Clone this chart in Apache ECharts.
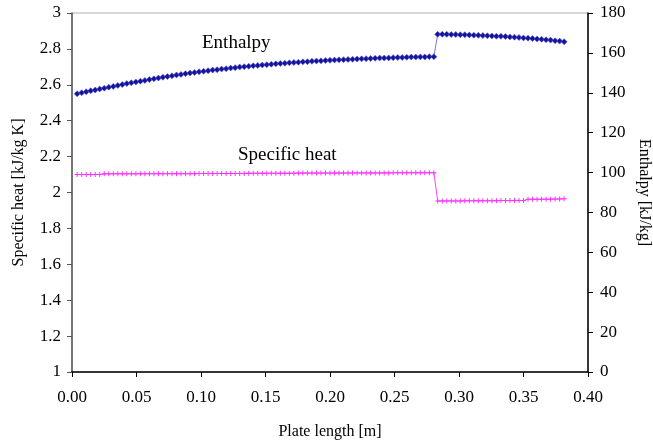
<!DOCTYPE html>
<html>
<head>
<meta charset="utf-8">
<script src="https://cdn.jsdelivr.net/npm/echarts@6/dist/echarts.min.js"></script>
<style>
  html, body { margin: 0; padding: 0; background: #fff; }
  #chart { width: 653px; height: 443px; }
</style>
</head>
<body>
<div id="chart"></div>
<script>
// Plate positions [m], first (heating) section
const plateX1 = [
  0.0040, 0.0075, 0.0110, 0.0145, 0.0180, 0.0215, 0.0250, 0.0285, 0.0320, 0.0355,
  0.0390, 0.0425, 0.0460, 0.0495, 0.0530, 0.0565, 0.0600, 0.0635, 0.0670, 0.0705,
  0.0740, 0.0775, 0.0810, 0.0845, 0.0880, 0.0915, 0.0950, 0.0985, 0.1020, 0.1055,
  0.1090, 0.1125, 0.1160, 0.1195, 0.1230, 0.1265, 0.1300, 0.1335, 0.1370, 0.1405,
  0.1440, 0.1475, 0.1510, 0.1545, 0.1580, 0.1615, 0.1650, 0.1685, 0.1720, 0.1755,
  0.1790, 0.1825, 0.1860, 0.1895, 0.1930, 0.1965, 0.2000, 0.2035, 0.2070, 0.2105,
  0.2140, 0.2175, 0.2210, 0.2245, 0.2280, 0.2315, 0.2350, 0.2385, 0.2420, 0.2455,
  0.2490, 0.2525, 0.2560, 0.2595, 0.2630, 0.2665, 0.2700, 0.2735, 0.2770, 0.2805
];
// Plate positions [m], second section
const plateX2 = [
  0.2835, 0.2870, 0.2905, 0.2940, 0.2975, 0.3010, 0.3045, 0.3080, 0.3115, 0.3150,
  0.3185, 0.3220, 0.3255, 0.3290, 0.3325, 0.3360, 0.3395, 0.3430, 0.3465, 0.3500,
  0.3535, 0.3570, 0.3605, 0.3640, 0.3675, 0.3710, 0.3745, 0.3780, 0.3815
];

// Enthalpy [kJ/kg]
const enthalpy1 = [
  139.5, 140.0, 140.5, 141.0, 141.4, 141.9, 142.3, 142.8, 143.2, 143.7,
  144.1, 144.6, 145.0, 145.4, 145.8, 146.2, 146.6, 147.0, 147.4, 147.8,
  148.1, 148.5, 148.9, 149.2, 149.6, 149.9, 150.2, 150.5, 150.8, 151.1,
  151.4, 151.6, 151.9, 152.1, 152.4, 152.6, 152.9, 153.1, 153.3, 153.5,
  153.7, 153.9, 154.1, 154.3, 154.5, 154.7, 154.8, 155.0, 155.2, 155.3,
  155.5, 155.6, 155.8, 155.9, 156.0, 156.2, 156.3, 156.4, 156.5, 156.6,
  156.7, 156.8, 156.9, 157.0, 157.1, 157.2, 157.3, 157.4, 157.4, 157.5,
  157.6, 157.7, 157.7, 157.8, 157.9, 157.9, 158.0, 158.0, 158.1, 158.1
];
const enthalpy2 = [
  169.3, 169.3, 169.3, 169.2, 169.2, 169.1, 169.1, 169.0, 168.9, 168.8,
  168.7, 168.6, 168.5, 168.4, 168.3, 168.2, 168.0, 167.9, 167.7, 167.5,
  167.4, 167.2, 167.0, 166.8, 166.6, 166.4, 166.1, 165.9, 165.6
];

// Specific heat [kJ/kg K]
const specHeat1 = [
  2.100, 2.100, 2.100, 2.100, 2.100, 2.100, 2.104, 2.104, 2.104, 2.104,
  2.104, 2.104, 2.104, 2.104, 2.105, 2.105, 2.105, 2.105, 2.105, 2.105,
  2.105, 2.105, 2.105, 2.105, 2.105, 2.105, 2.105, 2.106, 2.106, 2.106,
  2.106, 2.106, 2.106, 2.106, 2.106, 2.106, 2.106, 2.106, 2.107, 2.107,
  2.107, 2.107, 2.107, 2.107, 2.107, 2.107, 2.107, 2.107, 2.107, 2.108,
  2.108, 2.108, 2.108, 2.108, 2.108, 2.108, 2.108, 2.108, 2.108, 2.108,
  2.109, 2.109, 2.109, 2.109, 2.109, 2.109, 2.109, 2.109, 2.109, 2.109,
  2.110, 2.110, 2.110, 2.110, 2.110, 2.110, 2.110, 2.110, 2.110, 2.110
];
const specHeat2 = [
  1.953, 1.953, 1.953, 1.953, 1.953, 1.953, 1.954, 1.954, 1.954, 1.954,
  1.954, 1.954, 1.954, 1.954, 1.955, 1.955, 1.955, 1.955, 1.955, 1.955,
  1.962, 1.962, 1.962, 1.963, 1.963, 1.963, 1.964, 1.964, 1.965
];

const xTicks = [0, 0.05, 0.10, 0.15, 0.20, 0.25, 0.30, 0.35, 0.40];

const plateX = plateX1.concat(plateX2);
const enthalpy = enthalpy1.concat(enthalpy2);
const specHeat = specHeat1.concat(specHeat2);

const pairs = (xs, ys) => xs.map((x, i) => [x, ys[i]]);

const FONT = '"Liberation Serif", "Times New Roman", serif';
const plusPath = 'path://M2,0h1v2h2v1h-2v2h-1v-2h-2v-1h2z';

const chart = echarts.init(document.getElementById('chart'), null, { renderer: 'canvas' });

chart.setOption({
  animation: false,
  backgroundColor: '#ffffff',
  textStyle: { fontFamily: FONT },
  grid: {
    left: 72, right: 65, top: 13, bottom: 71,
    outerBoundsMode: 'none', containLabel: false,
    show: true, borderColor: '#b0b0b0', borderWidth: 1
  },
  xAxis: {
    type: 'value',
    min: 0, max: 0.4, interval: 0.05,
    name: 'Plate length [m]',
    nameLocation: 'middle',
    nameGap: 52,
    nameTextStyle: { fontFamily: FONT, fontSize: 16, color: '#000' },
    axisLine: { show: true, onZero: false, lineStyle: { color: '#000', width: 1.5 } },
    axisTick: { show: true, inside: false, length: 5, lineStyle: { color: '#000' } },
    axisLabel: {
      fontFamily: FONT, fontSize: 17, color: '#000', margin: 17,
      formatter: v => {
        const t = xTicks.find(k => Math.abs(k - v) < 1e-9);
        return (t !== undefined ? t : v).toFixed(2);
      }
    },
    splitLine: { show: false }
  },
  yAxis: [
    {
      type: 'value',
      min: 1, max: 3, interval: 0.2,
      position: 'left',
      name: 'Specific heat [kJ/kg K]',
      nameLocation: 'middle',
      nameGap: 45,
      nameRotate: 90,
      nameTextStyle: { fontFamily: FONT, fontSize: 16, color: '#000' },
      axisLine: { show: true, lineStyle: { color: '#555', width: 1.5 } },
      axisTick: { show: true, inside: false, length: 5, lineStyle: { color: '#555' } },
      axisLabel: {
        fontFamily: FONT, fontSize: 17, color: '#000', margin: 11,
        formatter: v => String(Math.round(v * 10) / 10)
      },
      splitLine: { show: false }
    },
    {
      type: 'value',
      min: 0, max: 180, interval: 20,
      position: 'right',
      name: 'Enthalpy [kJ/kg]',
      nameLocation: 'middle',
      nameGap: 46,
      nameRotate: -90,
      nameTextStyle: { fontFamily: FONT, fontSize: 16, color: '#000' },
      axisLine: { show: true, lineStyle: { color: '#000', width: 1.5 } },
      axisTick: { show: true, inside: false, length: 5, lineStyle: { color: '#000' } },
      axisLabel: { fontFamily: FONT, fontSize: 17, color: '#000', margin: 12 },
      splitLine: { show: false }
    }
  ],
  series: [
    {
      name: 'Enthalpy',
      type: 'line',
      yAxisIndex: 1,
      data: pairs(plateX, enthalpy),
      symbol: 'diamond',
      symbolSize: 6,
      showAllSymbol: true,
      lineStyle: { color: '#7a7ad6', width: 1 },
      itemStyle: { color: '#14149a', borderColor: '#5a5ad0', borderWidth: 0.6 },
      z: 3
    },
    {
      name: 'Specific heat',
      type: 'line',
      yAxisIndex: 0,
      data: pairs(plateX, specHeat),
      symbol: plusPath,
      symbolSize: 5,
      showAllSymbol: true,
      lineStyle: { color: '#ff44ff', width: 1 },
      itemStyle: { color: '#ff33ff' },
      z: 3
    }
  ],
  graphic: [
    {
      type: 'text', left: 202, top: 34,
      style: { text: 'Enthalpy', font: '19px ' + FONT, fill: '#000' }
    },
    {
      type: 'text', left: 238, top: 146,
      style: { text: 'Specific heat', font: '19px ' + FONT, fill: '#000' }
    }
  ]
});
</script>
</body>
</html>
